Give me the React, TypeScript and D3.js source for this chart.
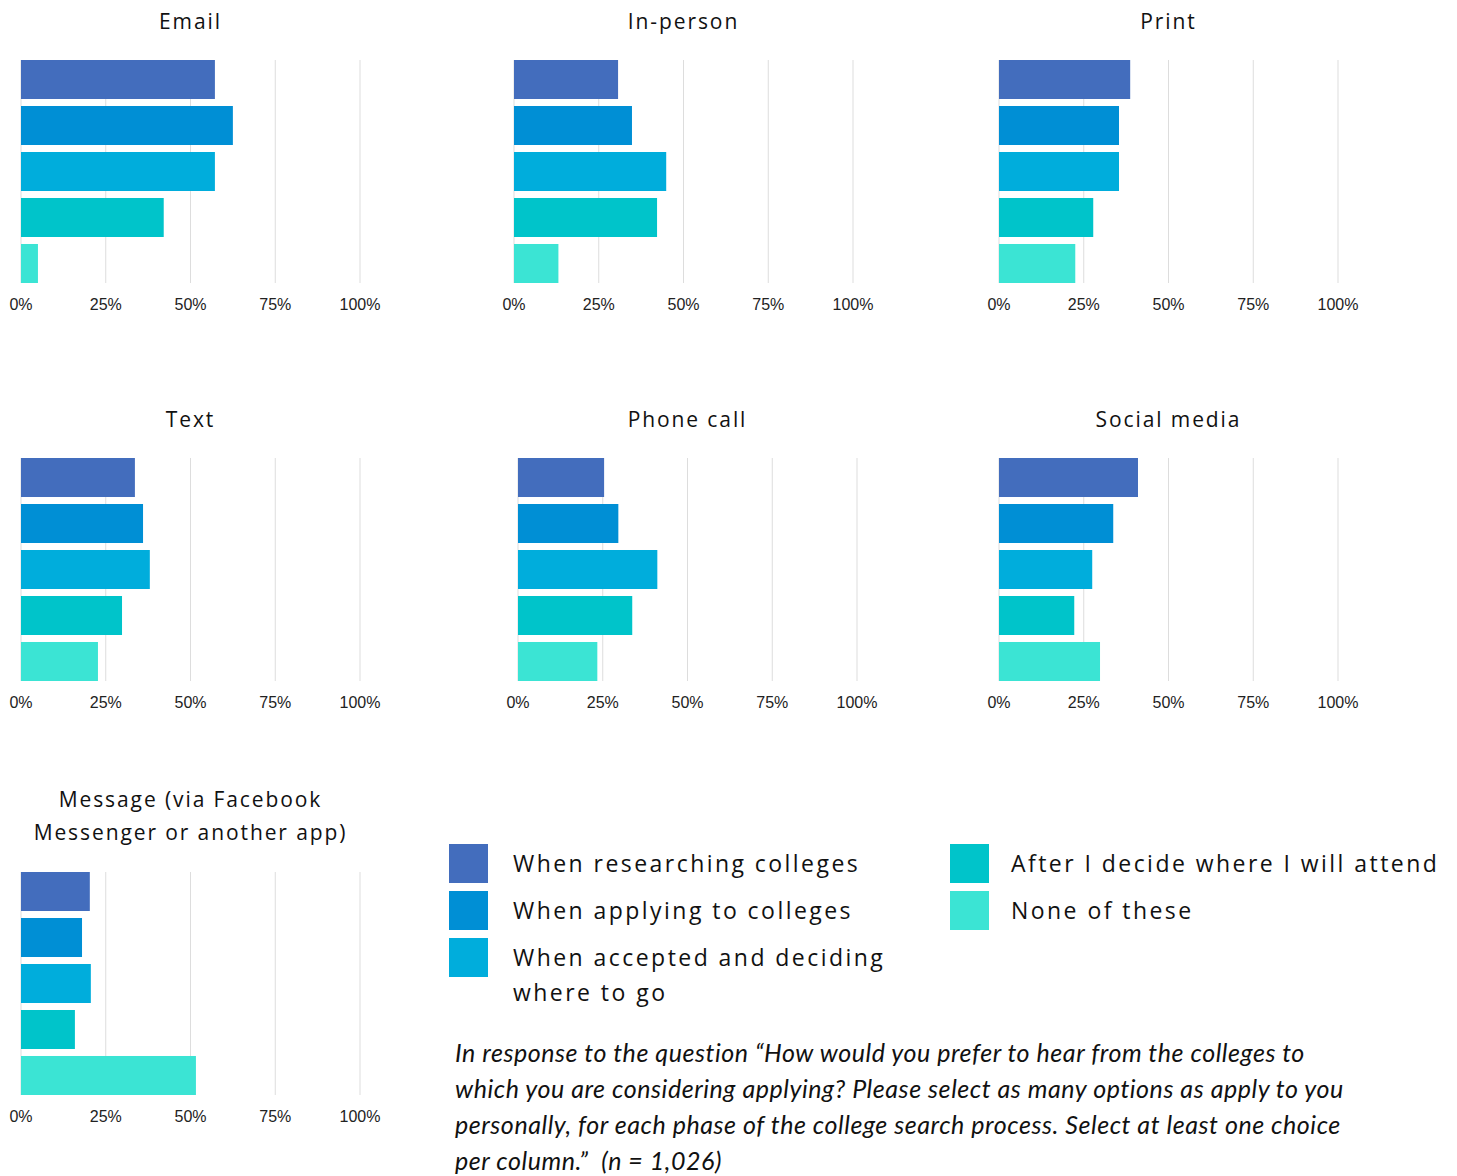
import React from "react";
import * as d3 from "d3";

const categories = [
  "Email",
  "In-person",
  "Print",
  "Text",
  "Phone call",
  "Social media",
  "Message (via Facebook Messenger or another app)",
];
const titleLines = [
  ["Email"],
  ["In-person"],
  ["Print"],
  ["Text"],
  ["Phone call"],
  ["Social media"],
  ["Message (via Facebook", "Messenger or another app)"],
];
const phases = [
  "When researching colleges",
  "When applying to colleges",
  "When accepted and deciding where to go",
  "After I decide where I will attend",
  "None of these",
];
const researching = [57.2, 30.7, 38.7, 33.6, 25.4, 41.0, 20.3];
const applying = [62.5, 34.8, 35.4, 36.0, 29.6, 33.7, 18.0];
const accepted = [57.2, 44.9, 35.4, 38.0, 41.1, 27.5, 20.6];
const afterDecide = [42.1, 42.2, 27.8, 29.8, 33.7, 22.2, 15.9];
const noneOfThese = [5.0, 13.1, 22.5, 22.7, 23.4, 29.8, 51.6];
const tickValues = [0, 25, 50, 75, 100];
const colors = ["#436dbd", "#008fd5", "#00addc", "#00c4ca", "#3be4d4"];
const noteLines = [
  "In response to the question \u201cHow would you prefer to hear from the colleges to",
  "which you are considering applying? Please select as many options as apply to you",
  "personally, for each phase of the college search process. Select at least one choice",
  "per column.\u201d\u00a0 (n = 1,026)",
];

const series = [researching, applying, accepted, afterDecide, noneOfThese];

// layout
const panelX0 = [21, 514, 999, 21, 518, 999, 21];
const panelTop = [60, 60, 60, 458, 458, 458, 872];
const titleY = [29, 29, 29, 427, 427, 427, 807];
const axisW = 339;
const plotH = 223;
const titleFont = "'Open Sans', 'Noto Sans', sans-serif";

function Panel({ i }: { i: number }) {
  const x = d3.scaleLinear().domain([0, 100]).range([panelX0[i], panelX0[i] + axisW]);
  const y = d3
    .scaleBand<string>()
    .domain(phases)
    .range([panelTop[i], panelTop[i] + plotH])
    .paddingInner(0.152)
    .paddingOuter(0);
  const cx = panelX0[i] + axisW / 2;
  return (
    <g>
      {titleLines[i].map((t, k) => (
        <text
          key={k}
          x={cx}
          y={titleY[i] + k * 33}
          textAnchor="middle"
          fontFamily={titleFont}
          fontSize={21}
          letterSpacing={1.9}
          fill="#111"
        >
          {t}
        </text>
      ))}
      {tickValues.map((t) => (
        <g key={t}>
          <line
            x1={x(t)}
            x2={x(t)}
            y1={panelTop[i]}
            y2={panelTop[i] + plotH}
            stroke="#dddddd"
            strokeWidth={1}
          />
          <text
            x={x(t)}
            y={panelTop[i] + 250}
            textAnchor="middle"
            fontFamily="'Liberation Sans', Arial, sans-serif"
            fontSize={16}
            fill="#222"
          >
            {t + "%"}
          </text>
        </g>
      ))}
      {phases.map((p, s) => (
        <rect
          key={p}
          x={x(0)}
          y={y(p)}
          width={x(series[s][i]) - x(0)}
          height={y.bandwidth()}
          fill={colors[s]}
        />
      ))}
    </g>
  );
}

const legendPos = [
  { x: 449, y: 844, tx: 513, lines: ["When researching colleges"] },
  { x: 449, y: 891, tx: 513, lines: ["When applying to colleges"] },
  { x: 449, y: 938, tx: 513, lines: ["When accepted and deciding", "where to go"] },
  { x: 950, y: 844, tx: 1011, lines: ["After I decide where I will attend"] },
  { x: 950, y: 891, tx: 1011, lines: ["None of these"] },
];

export default function App() {
  return (
    <svg
      width={1457}
      height={1176}
      style={{ position: "absolute", left: 0, top: 0, background: "#fff" }}
    >
      <rect width={1457} height={1176} fill="#fff" />
      {categories.map((c, i) => (
        <Panel key={c} i={i} />
      ))}
      {phases.map((p, s) => (
        <g key={p}>
          <rect x={legendPos[s].x} y={legendPos[s].y} width={39} height={39} fill={colors[s]} />
          {legendPos[s].lines.map((l, k) => (
            <text
              key={k}
              x={legendPos[s].tx}
              y={legendPos[s].y + 28 + k * 35}
              fontFamily={titleFont}
              fontSize={23}
              letterSpacing={2.45}
              fill="#111"
            >
              {l}
            </text>
          ))}
        </g>
      ))}
      {noteLines.map((l, k) => (
        <text
          key={k}
          x={455}
          y={1062 + k * 36}
          fontFamily="Lato, sans-serif"
          fontStyle="italic"
          fontSize={25}
          letterSpacing={0.55}
          fill="#111"
        >
          {l}
        </text>
      ))}
    </svg>
  );
}
